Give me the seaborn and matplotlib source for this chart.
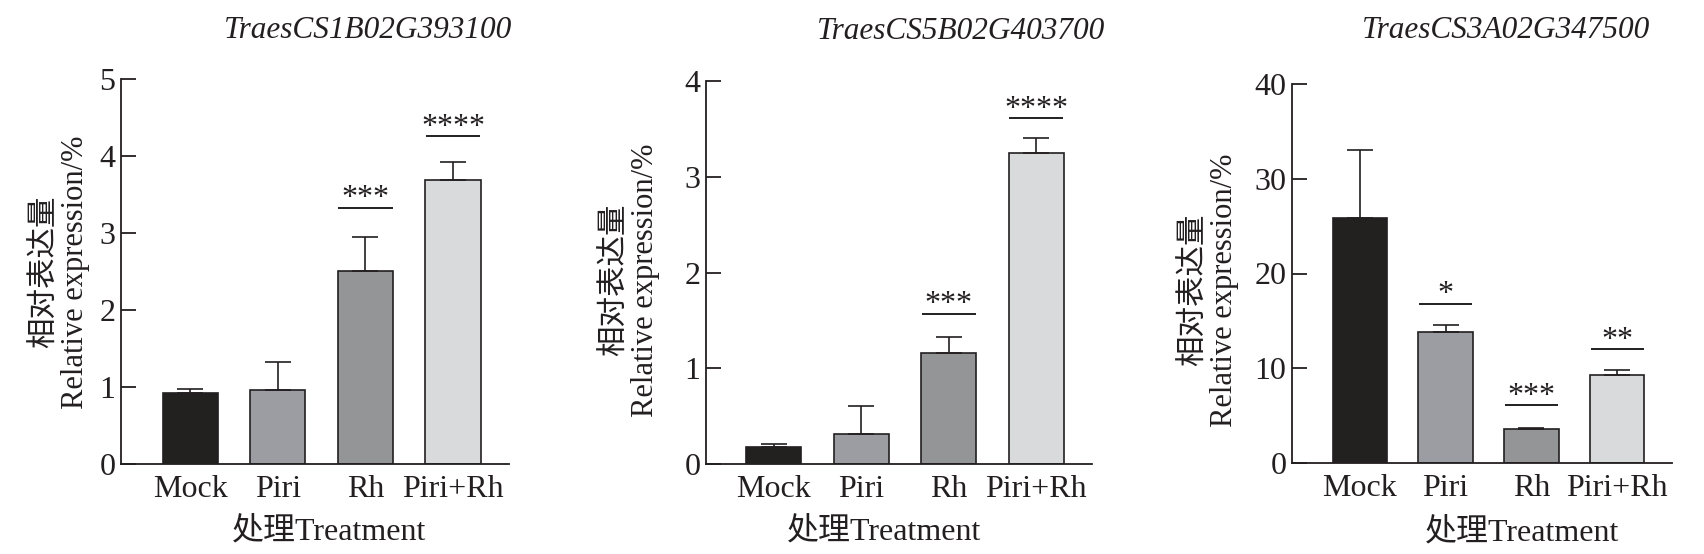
import matplotlib
matplotlib.use("Agg")
import matplotlib.pyplot as plt
import seaborn as sns
import pandas as pd

# ---------------- data ----------------
genes = ["TraesCS1B02G393100", "TraesCS5B02G403700", "TraesCS3A02G347500"]
categories = ["Mock", "Piri", "Rh", "Piri+Rh"]

expr_1 = [0.92, 0.96, 2.51, 3.69]
err_1 = [0.05, 0.36, 0.44, 0.23]
sig_1 = ["", "", "***", "****"]
sig_line_1 = [None, None, 3.33, 4.26]

expr_2 = [0.18, 0.31, 1.16, 3.25]
err_2 = [0.03, 0.30, 0.17, 0.15]
sig_2 = ["", "", "***", "****"]
sig_line_2 = [None, None, 1.57, 3.61]

expr_3 = [25.9, 13.8, 3.57, 9.29]
err_3 = [7.1, 0.8, 0.15, 0.56]
sig_3 = ["", "*", "***", "**"]
sig_line_3 = [None, 16.8, 6.13, 12.0]

yticks_1 = [0, 1, 2, 3, 4, 5]
yticks_2 = [0, 1, 2, 3, 4]
yticks_3 = [0, 10, 20, 30, 40]

ylabel_text = "相对表达量\nRelative expression/%"
xlabel_text = "处理Treatment"

bar_colors = ["#231f20", "#9b9ca4", "#939598", "#d9dadb"]
ink = "#231f20"

# ---------------- style ----------------
sns.set_theme(style="ticks")
plt.rcParams["font.family"] = ["Liberation Serif", "Noto Sans CJK SC", "DejaVu Sans"]
plt.rcParams["axes.unicode_minus"] = False

W, H = 1704, 554
fig = plt.figure(figsize=(W / 100, H / 100), dpi=100)

# axes boxes in pixels: left, right, top, bottom
boxes = [(121, 509, 79, 464), (706, 1092, 81, 464), (1292, 1672, 84, 463)]
xlims = [(-0.79, 3.64), (-0.775, 3.64), (-0.787, 3.636)]
title_pos = [(368, 38), (961, 39), (1506, 38)]
ylabel_pos = [(60, 272), (630, 280), (1209, 290)]
xlabel_pos = [(329, 532), (884, 532), (1522, 533)]

panels = [
    (expr_1, err_1, sig_1, sig_line_1, yticks_1),
    (expr_2, err_2, sig_2, sig_line_2, yticks_2),
    (expr_3, err_3, sig_3, sig_line_3, yticks_3),
]

fs = 23
for i, (vals, errs, sigs, siglines, yt) in enumerate(panels):
    l, r, t, b = boxes[i]
    ax = fig.add_axes([l / W, 1 - b / H, (r - l) / W, (b - t) / H])
    df = pd.DataFrame({"treatment": categories, "value": vals})
    sns.barplot(data=df, x="treatment", y="value", hue="treatment",
                palette=bar_colors, order=categories, hue_order=categories,
                width=0.63, edgecolor=ink, linewidth=1.2, legend=False,
                errorbar=None, ax=ax)
    xs = list(range(len(categories)))
    ax.errorbar(xs, vals, yerr=[[0] * len(vals), errs], fmt="none",
                ecolor=ink, elinewidth=1.2, capsize=9.5, capthick=1.2, zorder=3)
    for x, s, yl in zip(xs, sigs, siglines):
        if s:
            ax.plot([x - 0.31, x + 0.31], [yl, yl], color=ink, lw=1.4,
                    solid_capstyle="butt", zorder=3)
            ax.annotate(s, xy=(x, yl), xytext=(0, 1.0), textcoords="offset points",
                        ha="center", va="baseline", fontsize=23, color=ink)
    ax.set_xlim(*xlims[i])
    ax.set_ylim(yt[0], yt[-1])
    ax.set_yticks(yt)
    ax.set_yticklabels([str(v) for v in yt])
    ax.set_xlabel("")
    ax.set_ylabel("")
    sns.despine(ax=ax)
    for sp in ("left", "bottom"):
        ax.spines[sp].set_color(ink)
        ax.spines[sp].set_linewidth(1.3)
    ax.tick_params(axis="y", direction="in", length=11, width=1.3, color=ink,
                   labelsize=fs, pad=4, labelcolor=ink)
    ax.tick_params(axis="x", length=0, labelsize=fs, pad=8, labelcolor=ink)
    ax.set_facecolor("white")

    tx, ty = title_pos[i]
    fig.text(tx / W, 1 - ty / H, genes[i], ha="center", va="baseline",
             fontsize=22.5, style="italic", color=ink)
    yx, yy = ylabel_pos[i]
    fig.text(yx / W, 1 - yy / H, ylabel_text, rotation=90, ha="center",
             va="center", multialignment="center", linespacing=1.05,
             fontsize=22, color=ink)
    xx, xy = xlabel_pos[i]
    fig.text(xx / W, 1 - xy / H, xlabel_text, ha="center", va="center",
             fontsize=fs, color=ink)

fig.savefig("out.png", dpi=100, facecolor="white")
